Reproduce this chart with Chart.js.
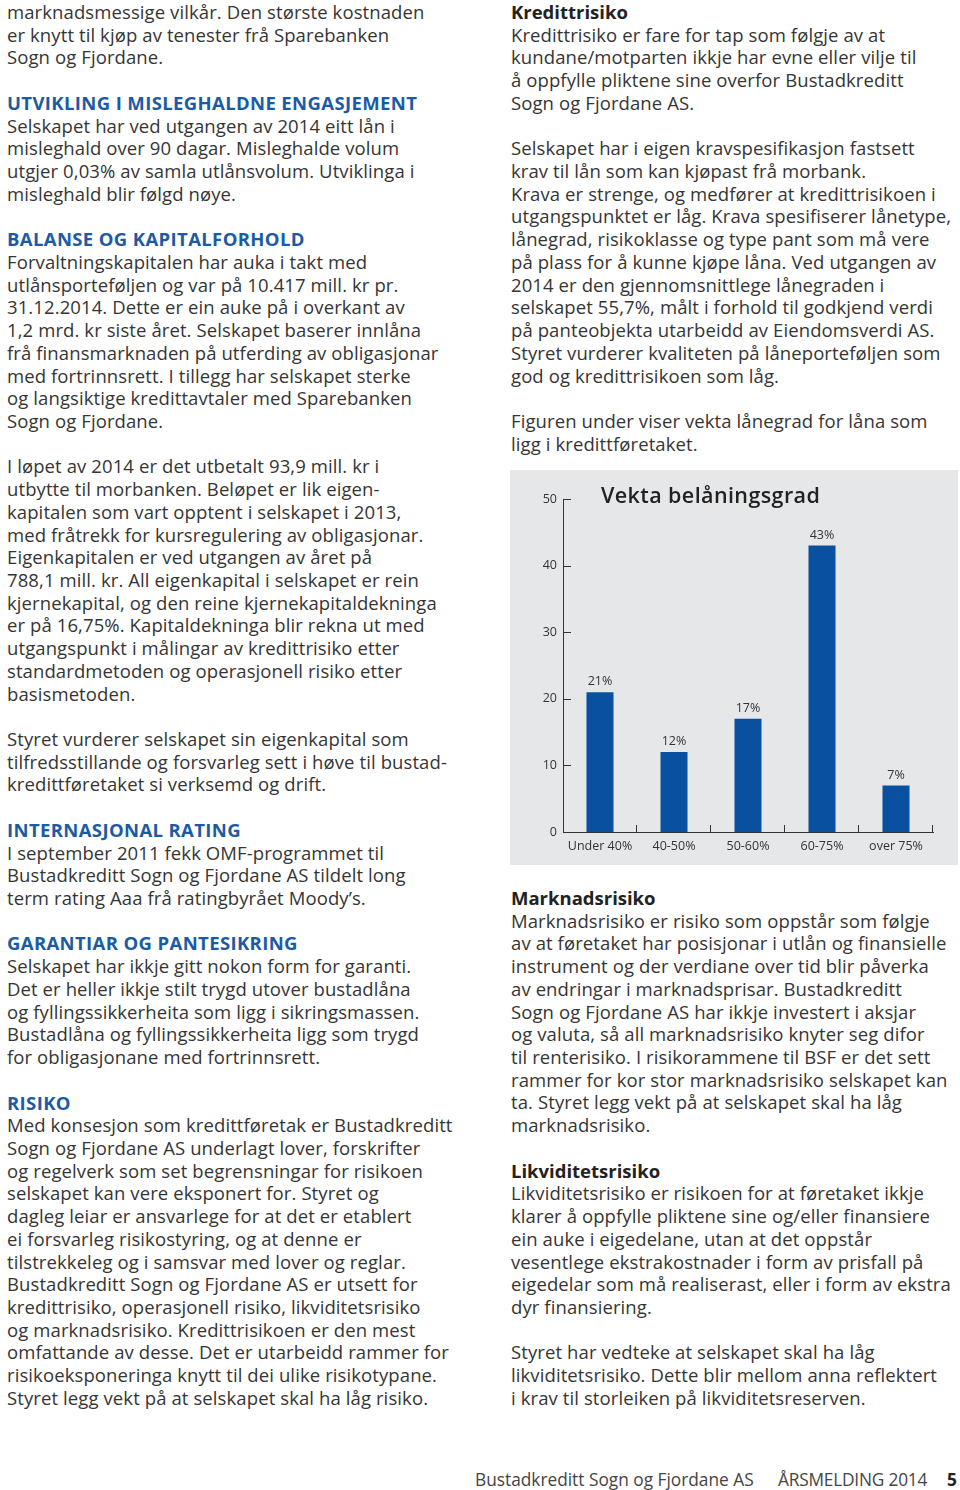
<!DOCTYPE html>
<html lang="nn">
<head>
<meta charset="utf-8">
<script src="https://cdn.jsdelivr.net/npm/chart.js@4.4.1/dist/chart.umd.min.js"></script>
<style>
  html, body { margin: 0; padding: 0; background: #fff; }
  body { width: 960px; height: 1490px; position: relative; overflow: hidden;
         font-family: "Open Sans", "Noto Sans", sans-serif; color: #353535; }
  .col { position: absolute; font-size: 18.5px; letter-spacing: 0.1px; }
  .l { height: 22.72px; line-height: 22.72px; white-space: nowrap; }
  .h { color: #1b5ba6; font-weight: 700; letter-spacing: 0.37px; }
  .b { font-weight: 700; color: #222; letter-spacing: 0; }
  #panel { position: absolute; left: 510px; top: 470px; width: 448px; height: 395px; background: #e6e7e8; }
  #chartTitle { position: absolute; left: 91px; top: 10px; font-size: 21.5px; font-weight: 600; color: #222; white-space: nowrap; letter-spacing: 0.4px; }
  #chartBox { position: absolute; left: 0; top: 0; width: 448px; height: 395px; }
  .ft { position: absolute; top: 1468px; font-size: 17.3px; color: #444; white-space: nowrap; line-height: 24px; }
</style>
</head>
<body>
<div class="col" style="left:7px; top:1px;">
  <div class="l">marknadsmessige vilkår. Den største kostnaden</div>
  <div class="l">er knytt til kjøp av tenester frå Sparebanken</div>
  <div class="l">Sogn og Fjordane.</div>
  <div class="l"></div>
  <div class="l h">UTVIKLING I MISLEGHALDNE ENGASJEMENT</div>
  <div class="l">Selskapet har ved utgangen av 2014 eitt lån i</div>
  <div class="l">misleghald over 90 dagar. Misleghalde volum</div>
  <div class="l">utgjer 0,03% av samla utlånsvolum. Utviklinga i</div>
  <div class="l">misleghald blir følgd nøye.</div>
  <div class="l"></div>
  <div class="l h">BALANSE OG KAPITALFORHOLD</div>
  <div class="l">Forvaltningskapitalen har auka i takt med</div>
  <div class="l">utlånsporteføljen og var på 10.417 mill. kr pr.</div>
  <div class="l">31.12.2014. Dette er ein auke på i overkant av</div>
  <div class="l">1,2 mrd. kr siste året. Selskapet baserer innlåna</div>
  <div class="l">frå finansmarknaden på utferding av obligasjonar</div>
  <div class="l">med fortrinnsrett. I tillegg har selskapet sterke</div>
  <div class="l">og langsiktige kredittavtaler med Sparebanken</div>
  <div class="l">Sogn og Fjordane.</div>
  <div class="l"></div>
  <div class="l">I løpet av 2014 er det utbetalt 93,9 mill. kr i</div>
  <div class="l">utbytte til morbanken. Beløpet er lik eigen-</div>
  <div class="l">kapitalen som vart opptent i selskapet i 2013,</div>
  <div class="l">med fråtrekk for kursregulering av obligasjonar.</div>
  <div class="l">Eigenkapitalen er ved utgangen av året på</div>
  <div class="l">788,1 mill. kr. All eigenkapital i selskapet er rein</div>
  <div class="l">kjernekapital, og den reine kjernekapitaldekninga</div>
  <div class="l">er på 16,75%. Kapitaldekninga blir rekna ut med</div>
  <div class="l">utgangspunkt i målingar av kredittrisiko etter</div>
  <div class="l">standardmetoden og operasjonell risiko etter</div>
  <div class="l">basismetoden.</div>
  <div class="l"></div>
  <div class="l">Styret vurderer selskapet sin eigenkapital som</div>
  <div class="l">tilfredsstillande og forsvarleg sett i høve til bustad-</div>
  <div class="l">kredittføretaket si verksemd og drift.</div>
  <div class="l"></div>
  <div class="l h">INTERNASJONAL RATING</div>
  <div class="l">I september 2011 fekk OMF-programmet til</div>
  <div class="l">Bustadkreditt Sogn og Fjordane AS tildelt long</div>
  <div class="l">term rating Aaa frå ratingbyrået Moody’s.</div>
  <div class="l"></div>
  <div class="l h">GARANTIAR OG PANTESIKRING</div>
  <div class="l">Selskapet har ikkje gitt nokon form for garanti.</div>
  <div class="l">Det er heller ikkje stilt trygd utover bustadlåna</div>
  <div class="l">og fyllingssikkerheita som ligg i sikringsmassen.</div>
  <div class="l">Bustadlåna og fyllingssikkerheita ligg som trygd</div>
  <div class="l">for obligasjonane med fortrinnsrett.</div>
  <div class="l"></div>
  <div class="l h">RISIKO</div>
  <div class="l">Med konsesjon som kredittføretak er Bustadkreditt</div>
  <div class="l">Sogn og Fjordane AS underlagt lover, forskrifter</div>
  <div class="l">og regelverk som set begrensningar for risikoen</div>
  <div class="l">selskapet kan vere eksponert for. Styret og</div>
  <div class="l">dagleg leiar er ansvarlege for at det er etablert</div>
  <div class="l">ei forsvarleg risikostyring, og at denne er</div>
  <div class="l">tilstrekkeleg og i samsvar med lover og reglar.</div>
  <div class="l">Bustadkreditt Sogn og Fjordane AS er utsett for</div>
  <div class="l">kredittrisiko, operasjonell risiko, likviditetsrisiko</div>
  <div class="l">og marknadsrisiko. Kredittrisikoen er den mest</div>
  <div class="l">omfattande av desse. Det er utarbeidd rammer for</div>
  <div class="l">risikoeksponeringa knytt til dei ulike risikotypane.</div>
  <div class="l">Styret legg vekt på at selskapet skal ha låg risiko.</div>
</div>

<div class="col" style="left:511px; top:1px;">
  <div class="l b">Kredittrisiko</div>
  <div class="l">Kredittrisiko er fare for tap som følgje av at</div>
  <div class="l">kundane/motparten ikkje har evne eller vilje til</div>
  <div class="l">å oppfylle pliktene sine overfor Bustadkreditt</div>
  <div class="l">Sogn og Fjordane AS.</div>
  <div class="l"></div>
  <div class="l">Selskapet har i eigen kravspesifikasjon fastsett</div>
  <div class="l">krav til lån som kan kjøpast frå morbank.</div>
  <div class="l">Krava er strenge, og medfører at kredittrisikoen i</div>
  <div class="l">utgangspunktet er låg. Krava spesifiserer lånetype,</div>
  <div class="l">lånegrad, risikoklasse og type pant som må vere</div>
  <div class="l">på plass for å kunne kjøpe låna. Ved utgangen av</div>
  <div class="l">2014 er den gjennomsnittlege lånegraden i</div>
  <div class="l">selskapet 55,7%, målt i forhold til godkjend verdi</div>
  <div class="l">på panteobjekta utarbeidd av Eiendomsverdi AS.</div>
  <div class="l">Styret vurderer kvaliteten på låneporteføljen som</div>
  <div class="l">god og kredittrisikoen som låg.</div>
  <div class="l"></div>
  <div class="l">Figuren under viser vekta lånegrad for låna som</div>
  <div class="l">ligg i kredittføretaket.</div>
</div>

<div id="panel">
  <div id="chartBox"><canvas id="c"></canvas></div>
  <div id="chartTitle">Vekta belåningsgrad</div>
</div>

<div class="col" style="left:511px; top:887px;">
  <div class="l b">Marknadsrisiko</div>
  <div class="l">Marknadsrisiko er risiko som oppstår som følgje</div>
  <div class="l">av at føretaket har posisjonar i utlån og finansielle</div>
  <div class="l">instrument og der verdiane over tid blir påverka</div>
  <div class="l">av endringar i marknadsprisar. Bustadkreditt</div>
  <div class="l">Sogn og Fjordane AS har ikkje investert i aksjar</div>
  <div class="l">og valuta, så all marknadsrisiko knyter seg difor</div>
  <div class="l">til renterisiko. I risikorammene til BSF er det sett</div>
  <div class="l">rammer for kor stor marknadsrisiko selskapet kan</div>
  <div class="l">ta. Styret legg vekt på at selskapet skal ha låg</div>
  <div class="l">marknadsrisiko.</div>
  <div class="l"></div>
  <div class="l b">Likviditetsrisiko</div>
  <div class="l">Likviditetsrisiko er risikoen for at føretaket ikkje</div>
  <div class="l">klarer å oppfylle pliktene sine og/eller finansiere</div>
  <div class="l">ein auke i eigedelane, utan at det oppstår</div>
  <div class="l">vesentlege ekstrakostnader i form av prisfall på</div>
  <div class="l">eigedelar som må realiserast, eller i form av ekstra</div>
  <div class="l">dyr finansiering.</div>
  <div class="l"></div>
  <div class="l">Styret har vedteke at selskapet skal ha låg</div>
  <div class="l">likviditetsrisiko. Dette blir mellom anna reflektert</div>
  <div class="l">i krav til storleiken på likviditetsreserven.</div>
</div>

<div class="ft" style="left:475px;">Bustadkreditt Sogn og Fjordane AS</div>
<div class="ft" style="left:778px; letter-spacing:-0.2px;">ÅRSMELDING 2014</div>
<div class="ft" style="left:947px; font-weight:700; color:#222;">5</div>

<script>
const categories = ['Under 40%', '40-50%', '50-60%', '60-75%', 'over 75%'];
const shares = [21, 12, 17, 43, 7];
const shareLabels = ['21%', '12%', '17%', '43%', '7%'];
const yMin = 0, yMax = 50, yStep = 10;

const FONT = '"Open Sans", "Noto Sans", sans-serif';
const AXIS = '#333';

const inwardTicks = {
  id: 'inwardTicks',
  afterDraw(chart) {
    const { ctx, scales: { x, y } } = chart;
    ctx.save();
    ctx.strokeStyle = AXIS;
    ctx.lineWidth = 1;
    ctx.beginPath();
    y.ticks.forEach(t => {
      const py = Math.round(y.getPixelForValue(t.value)) + 0.5;
      ctx.moveTo(x.left, py);
      ctx.lineTo(x.left + 8, py);
    });
    for (let i = 0; i < categories.length; i++) {
      const px = Math.round(x.getPixelForValue(i + 0.5)) - 0.5;
      ctx.moveTo(px, y.bottom);
      ctx.lineTo(px, y.bottom - 7);
    }
    ctx.stroke();
    ctx.restore();
  }
};

const barLabels = {
  id: 'barLabels',
  afterDatasetsDraw(chart) {
    const { ctx } = chart;
    const meta = chart.getDatasetMeta(0);
    ctx.save();
    ctx.font = '12.5px ' + FONT;
    ctx.fillStyle = '#333';
    ctx.textAlign = 'center';
    ctx.textBaseline = 'bottom';
    meta.data.forEach((bar, i) => {
      ctx.fillText(shareLabels[i], bar.x, bar.y - 4);
    });
    ctx.restore();
  }
};

new Chart(document.getElementById('c'), {
  type: 'bar',
  data: {
    labels: categories,
    datasets: [{
      data: shares,
      backgroundColor: '#0a50a0',
      borderWidth: 0,
      barPercentage: 0.365,
      categoryPercentage: 1
    }]
  },
  options: {
    responsive: true,
    maintainAspectRatio: false,
    animation: false,
    layout: { padding: { top: 29, right: 25, left: 0, bottom: 0 } },
    plugins: { legend: { display: false }, tooltip: { enabled: false }, title: { display: false } },
    scales: {
      x: {
        grid: { display: false, drawTicks: false },
        border: { display: true, color: AXIS, width: 1 },
        ticks: { color: '#333', font: { family: FONT, size: 12.5 }, padding: 7, maxRotation: 0 },
        afterFit(s) { s.height = 33; }
      },
      y: {
        min: yMin, max: yMax,
        grid: { display: false, drawTicks: false },
        border: { display: true, color: AXIS, width: 1 },
        ticks: { stepSize: yStep, color: '#333', font: { family: FONT, size: 12.5 }, padding: 6 },
        afterFit(s) { s.width = 53; }
      }
    }
  },
  plugins: [inwardTicks, barLabels]
});
</script>
</body>
</html>
